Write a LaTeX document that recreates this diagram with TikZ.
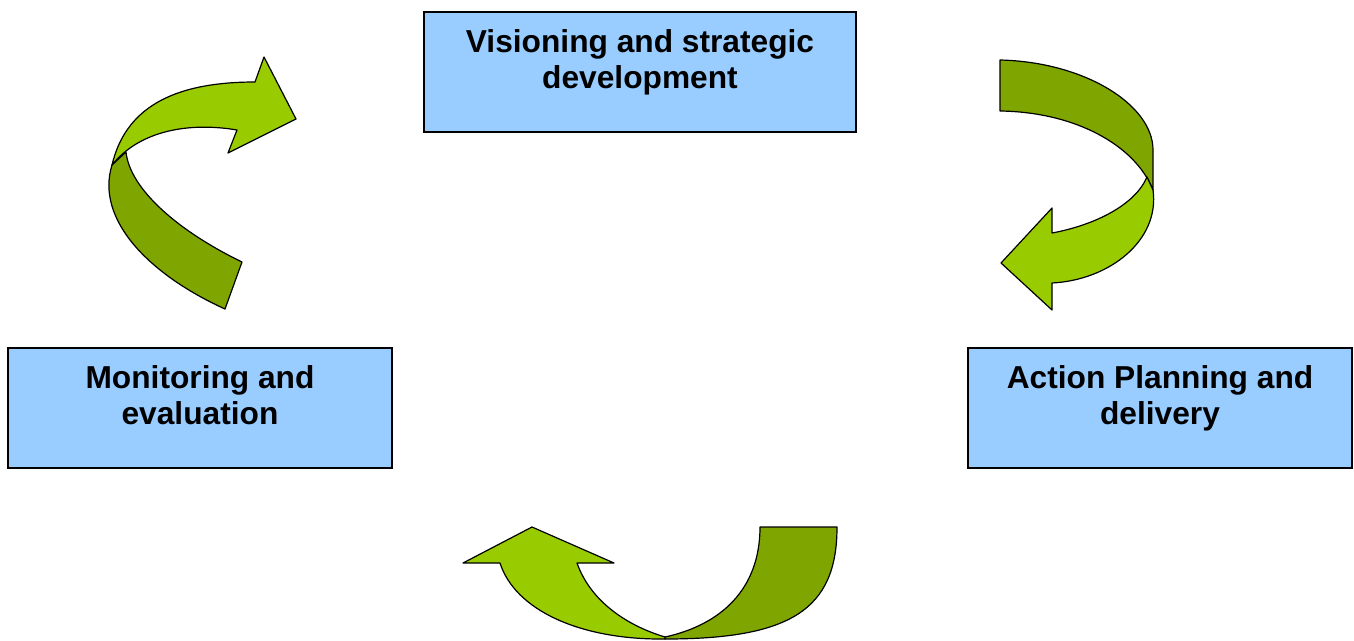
\documentclass[tikz,border=0pt]{standalone}
\usepackage{fontspec}
\setmainfont{Liberation Sans}
\definecolor{boxblue}{HTML}{99CCFF}
\definecolor{leaflight}{HTML}{99CC00}
\definecolor{leafdark}{HTML}{7FA600}
\begin{document}
\begin{tikzpicture}[x=1pt,y=-1pt,
  stagebox/.style={draw=black, line width=1.3pt, fill=boxblue, inner sep=0pt},
  stagetext/.style={font=\bfseries\fontsize{31.7}{36}\selectfont, align=center, inner sep=0pt},
  ribbon/.style={draw=black, line width=1.2pt, line join=round},
  ribbonlight/.style={ribbon, fill=leaflight},
  ribbondark/.style={ribbon, fill=leafdark}]
\useasboundingbox (0,0) rectangle (1354,640);

% stage boxes
\node[stagebox, minimum width=432pt, minimum height=120pt] (vision) at (640,72) {};
\node[stagebox, minimum width=384pt, minimum height=120pt] (monitor) at (200,408) {};
\node[stagebox, minimum width=384pt, minimum height=120pt] (action) at (1160,408) {};

% stage labels
\node[stagetext] (visionlabel) at (640,63.5) {\strut Visioning and strategic\\\strut development};
\node[stagetext] (monitorlabel) at (200,399.5) {\strut Monitoring and\\\strut evaluation};
\node[stagetext] (actionlabel) at (1160,399.5) {\strut Action Planning and\\\strut delivery};

% curved arrow, upper left (monitoring -> visioning)
\path[ribbondark] (126,152) .. controls (130,190) and (180,232) .. (242,262)
  -- (225,309) .. controls (150,275) and (95,220) .. (112,165) -- cycle;
\path[ribbonlight] (112,165) .. controls (125,110) and (170,82) .. (255,82)
  -- (264,57) -- (296,119) -- (228,153) -- (237,130)
  .. controls (190,122) and (140,130) .. (112,165) -- cycle;

% curved arrow, upper right (visioning -> action)
\path[ribbondark] (1000,60) .. controls (1085,62) and (1153,105) .. (1153,150)
  -- (1153,190) .. controls (1135,145) and (1075,112) .. (1000,111) -- cycle;
\path[ribbonlight] (1153,190) .. controls (1160,240) and (1110,280) .. (1052,283)
  -- (1052,310) -- (1001,263) -- (1052,208) -- (1052,233)
  .. controls (1095,225) and (1135,205) .. (1147,177) -- cycle;

% curved arrow, bottom (action -> monitoring)
\path[ribbondark] (760,527) -- (837,527) .. controls (837,610) and (790,639) .. (665,639)
  -- (665,637) .. controls (720,625) and (760,590) .. (760,527) -- cycle;
\path[ribbonlight] (665,639) .. controls (580,640) and (515,610) .. (500,563)
  -- (463,563) -- (532,527) -- (614,563) -- (577,563)
  .. controls (590,600) and (625,625) .. (665,637) -- cycle;
\end{tikzpicture}
\end{document}
